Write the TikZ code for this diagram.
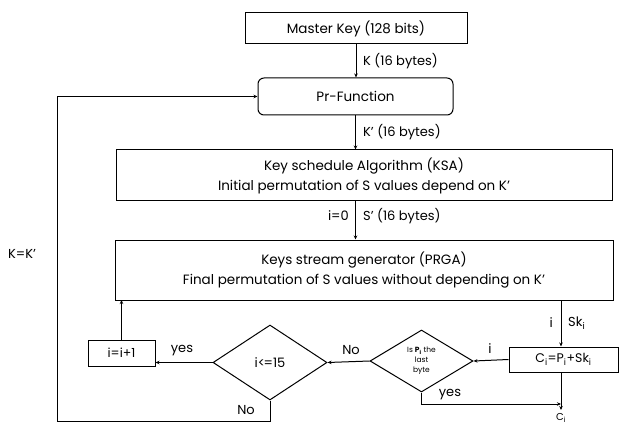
\documentclass[tikz,border=0pt]{standalone}
\usepackage{fontspec}
\setmainfont{Poppins}
\usetikzlibrary{shapes.geometric,arrows.meta}
\begin{document}
\begin{tikzpicture}[x=1pt,y=-1pt,
  lbl/.style={font=\fontsize{13}{15}\selectfont, inner sep=1pt},
  box/.style={draw, line width=1pt, inner sep=0pt, align=center, font=\fontsize{13.5}{20}\selectfont},
  dia/.style={draw, diamond, line width=1pt, inner sep=0pt, align=center},
  arr/.style={-{Stealth[length=4pt,width=3.5pt]}, line width=1pt},
  ln/.style={line width=1pt}]
\useasboundingbox (0,0) rectangle (619,425);
\node[box, minimum width=222pt, minimum height=31pt] (mk) at (356,28.5) {Master Key (128 bits)};
\node[box, rounded corners=6pt, minimum width=195pt, minimum height=37pt] (pr) at (355.5,96.5) {Pr-Function};
\node[box, minimum width=496pt, minimum height=51pt] (ksa) at (364,175.5) {Key schedule Algorithm (KSA)\\Initial permutation of S values depend on K’};
\node[box, minimum width=498pt, minimum height=60pt] (prga) at (364,270) {Keys stream generator (PRGA)\\Final permutation of S values without depending on K’};
\node[box, minimum width=67pt, minimum height=26pt, font=\fontsize{12.5}{14}\selectfont] (inc) at (121.5,353) {i=i+1};
\node[dia, minimum width=114pt, minimum height=75pt, font=\fontsize{13}{15}\selectfont] (d15) at (270,362.5) {i<\kern-1.5pt=15};
\node[dia, minimum width=103pt, minimum height=62pt, font=\fontsize{7.5}{10}\selectfont] (dl) at (421.5,361) {Is \textbf{P}$_\mathbf{i}$ the\\last\\byte};
\node[box, minimum width=109pt, minimum height=25pt, font=\fontsize{12.5}{14}\selectfont] (cb) at (563.5,359.5) {C$_\mathrm{i}$=P$_\mathrm{i}$+Sk$_\mathrm{i}$};
\coordinate (cout) at (561,410);
\coordinate (yj) at (561,404);
\coordinate (lc) at (57,421);
\coordinate (ib) at (121.5,300);
\draw[arr] (mk.south) -- (mk.south |- pr.north);
\draw[arr] (pr.south) -- (pr.south |- ksa.north);
\draw[arr] (ksa.south -| pr.south) -- (pr.south |- prga.north);
\draw[arr] (prga.south -| cout) -- (cb.north -| cout);
\draw[arr] (cb.west) -- (dl.east);
\draw[arr] (dl.west) -- (d15.east);
\draw[arr] (d15.west) -- (inc.east |- d15.west);
\draw[arr] (inc.north) -- (ib);
\draw[arr] (cb.south -| cout) -- (cout);
\draw[arr] (dl.south) |- (yj);
\draw[arr] (d15.south) |- (lc) |- (pr.west);
\node[lbl, anchor=west] (l1) at (362,61) {K (16 bytes)};
\node[lbl, anchor=west] (l2) at (362,132) {K’ (16 bytes)};
\node[lbl, anchor=east] (l3) at (350,216) {i=0};
\node[lbl, anchor=west] (l4) at (362,216) {S’ (16 bytes)};
\node[lbl, anchor=east] (l5) at (554,323) {i};
\node[lbl, anchor=west] (l6) at (567,323) {Sk$_\mathrm{i}$};
\node[lbl] (l7) at (490,349) {i};
\node[lbl] (l8) at (351,350) {No};
\node[lbl] (l9) at (182,351) {yes};
\node[lbl] (l10) at (246,410) {No};
\node[lbl] (l11) at (450,395) {yes};
\node[lbl] (l12) at (22,254) {K=K’};
\node[lbl, anchor=south, inner sep=0pt, font=\fontsize{10}{11}\selectfont] (l13) at (561,422.5) {C$_\mathrm{i}$};
\end{tikzpicture}
\end{document}
